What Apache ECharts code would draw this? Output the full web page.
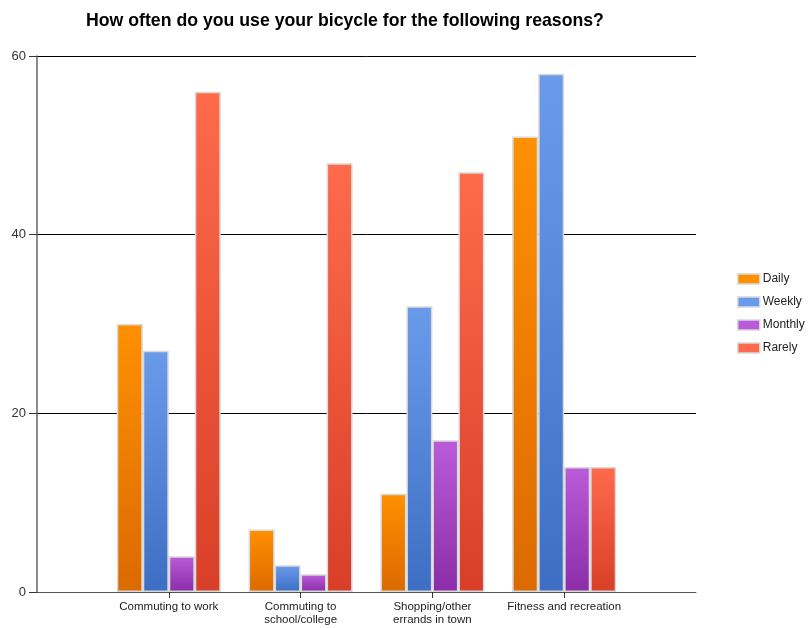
<!DOCTYPE html>
<html>
<head>
<meta charset="utf-8">
<script src="https://cdn.jsdelivr.net/npm/echarts@6/dist/echarts.min.js"></script>
<style>html,body{margin:0;padding:0;background:#fff;}#c{width:810px;height:628px;}</style>
</head>
<body>
<div id="c"></div>
<script>
var categories = ['Commuting to work', 'Commuting to\nschool/college', 'Shopping/other\nerrands in town', 'Fitness and recreation'];
var seriesNames = ['Daily', 'Weekly', 'Monthly', 'Rarely'];
var daily = [30, 7, 11, 51];
var weekly = [27, 3, 32, 58];
var monthly = [4, 2, 17, 14];
var rarely = [56, 48, 47, 14];
var yTicks = [0, 20, 40, 60];

var values = [daily, weekly, monthly, rarely];
var gradients = [
  ['#FF9000', '#DB6A00'],
  ['#6A9BEB', '#3D6EC3'],
  ['#BA5CD9', '#8B2CA8'],
  ['#FF6A4B', '#D83F28']
];

var chart = echarts.init(document.getElementById('c'), null, {renderer: 'canvas'});
var series = seriesNames.map(function (name, i) {
  return {
    name: name,
    type: 'bar',
    barWidth: 26,
    barGap: '0%',
    data: values[i].map(function (v, j) { return [j + 1, v]; }),
    itemStyle: {
      color: new echarts.graphic.LinearGradient(0, 0, 0, 1, [
        {offset: 0, color: gradients[i][0]},
        {offset: 1, color: gradients[i][1]}
      ]),
      borderColor: '#d9d9d9',
      borderWidth: 1.5
    },
    emphasis: {disabled: true}
  };
});

chart.setOption({
  animation: false,
  backgroundColor: '#fff',
  title: {
    text: 'How often do you use your bicycle for the following reasons?',
    left: 81,
    top: 7,
    textStyle: {fontFamily: 'Arial, Liberation Sans', fontWeight: 'bold', fontSize: 17.7, color: '#000'}
  },
  legend: {
    orient: 'vertical',
    left: 732,
    top: 268,
    itemWidth: 22,
    itemHeight: 10,
    itemGap: 11,
    icon: 'rect',
    data: seriesNames.map(function (n, i) {
      return {name: n, itemStyle: {color: gradients[i][0], borderColor: '#d9d9d9', borderWidth: 1.5}};
    }),
    textStyle: {fontFamily: 'Arial, Liberation Sans', fontSize: 12, color: '#222', padding: [0, 0, 0, -2]}
  },
  grid: {left: 37, right: 114, top: 56, bottom: 36, containLabel: false},
  xAxis: {
    type: 'value',
    min: 0,
    max: 5,
    interval: 1,
    axisLine: {lineStyle: {color: '#555', width: 1}},
    axisTick: {show: true, length: 6, lineStyle: {color: '#333'}},
    splitLine: {show: false},
    axisLabel: {
      margin: 8,
      fontFamily: 'Arial, Liberation Sans',
      fontSize: 11.5,
      color: '#222',
      lineHeight: 13,
      showMinLabel: false,
      showMaxLabel: false,
      formatter: function (v) {
        var k = Math.round(v);
        return (k >= 1 && k <= categories.length) ? categories[k - 1] : '';
      }
    }
  },
  yAxis: {
    type: 'value',
    min: yTicks[0],
    max: yTicks[yTicks.length - 1],
    interval: 20,
    axisLine: {show: true, lineStyle: {color: '#666', width: 1.5}},
    axisTick: {show: true, length: 8, lineStyle: {color: '#333'}},
    splitLine: {show: true, lineStyle: {color: '#000', width: 1}},
    axisLabel: {margin: 11, fontFamily: 'Arial, Liberation Sans', fontSize: 13, color: '#333'}
  },
  series: series
});
</script>
</body>
</html>
